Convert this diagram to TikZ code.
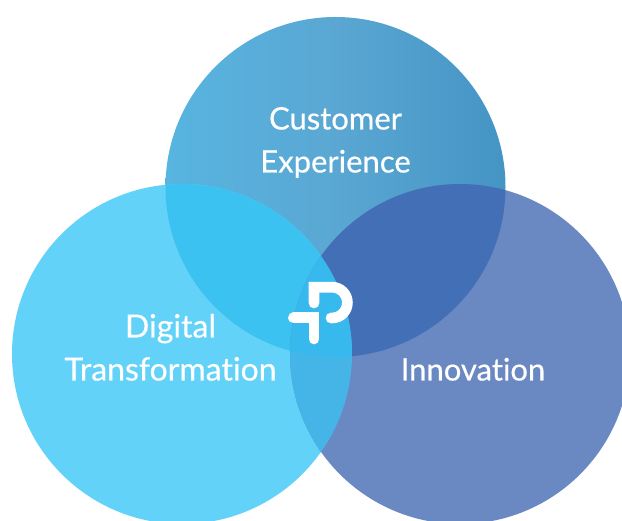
\documentclass[tikz,border=0pt]{standalone}
\usepackage{fontspec}
\setmainfont[Ligatures=NoCommon,FakeBold=0.4]{Lato}
\definecolor{cleft}{HTML}{62D2F9}
\definecolor{cright}{HTML}{6A88C2}
\definecolor{cLT}{HTML}{3CC2F0}
\definecolor{cTR}{HTML}{426FB5}
\definecolor{cLR}{HTML}{45B5E8}
\definecolor{cmid}{HTML}{38B9EE}
\definecolor{ctopa}{HTML}{57B5E0}
\definecolor{ctopb}{HTML}{5AA7D3}
\definecolor{ctopc}{HTML}{4494C4}
\tikzset{
  lbl/.style={text=white,anchor=base,inner sep=0pt,font=\fontsize{31}{31}\selectfont},
  lblwide/.style={lbl,font=\fontsize{32}{32}\selectfont},
  logo/.style={draw=white,line width=10.7pt,line cap=round,line join=miter}
}
\begin{document}
\begin{tikzpicture}[x=1pt,y=-1pt]
\clip (0,0) rectangle (622,521);
\fill[white] (0,0) rectangle (622,521);
\coordinate (T) at (335.5,187);
\coordinate (L) at (182,354);
\coordinate (R) at (460,354);
\shade[left color=ctopa,right color=ctopc,middle color=ctopb] (T) circle[radius=170pt];
\fill[cleft] (L) circle[radius=170pt];
\fill[cright] (R) circle[radius=170pt];
\begin{scope}\clip (L) circle[radius=170pt]; \fill[cLT] (T) circle[radius=170pt];\end{scope}
\begin{scope}\clip (R) circle[radius=170pt]; \fill[cTR] (T) circle[radius=170pt];\end{scope}
\begin{scope}\clip (L) circle[radius=170pt]; \fill[cLR] (R) circle[radius=170pt];\end{scope}
\begin{scope}\clip (L) circle[radius=170pt]; \clip (R) circle[radius=170pt]; \fill[cmid] (T) circle[radius=170pt];\end{scope}
\node[lbl] (ce1) at (335.5,129.5) {Customer};
\node[lbl] (ce2) at (335.5,172.5) {Experience};
\node[lblwide] (dt1) at (170.5,337.5) {Digital};
\node[lblwide] (dt2) at (170.5,380.5) {Transformation};
\node[lbl] (inn) at (473,380.5) {Innovation};
\draw[logo] (314,303) -- (314,287.2) -- (332,287.2) arc[start angle=90,end angle=-90,radius=15.4pt] -- (331,318);
\draw[logo] (293.5,317.8) -- (314,317.8) -- (314,339);
\end{tikzpicture}
\end{document}
